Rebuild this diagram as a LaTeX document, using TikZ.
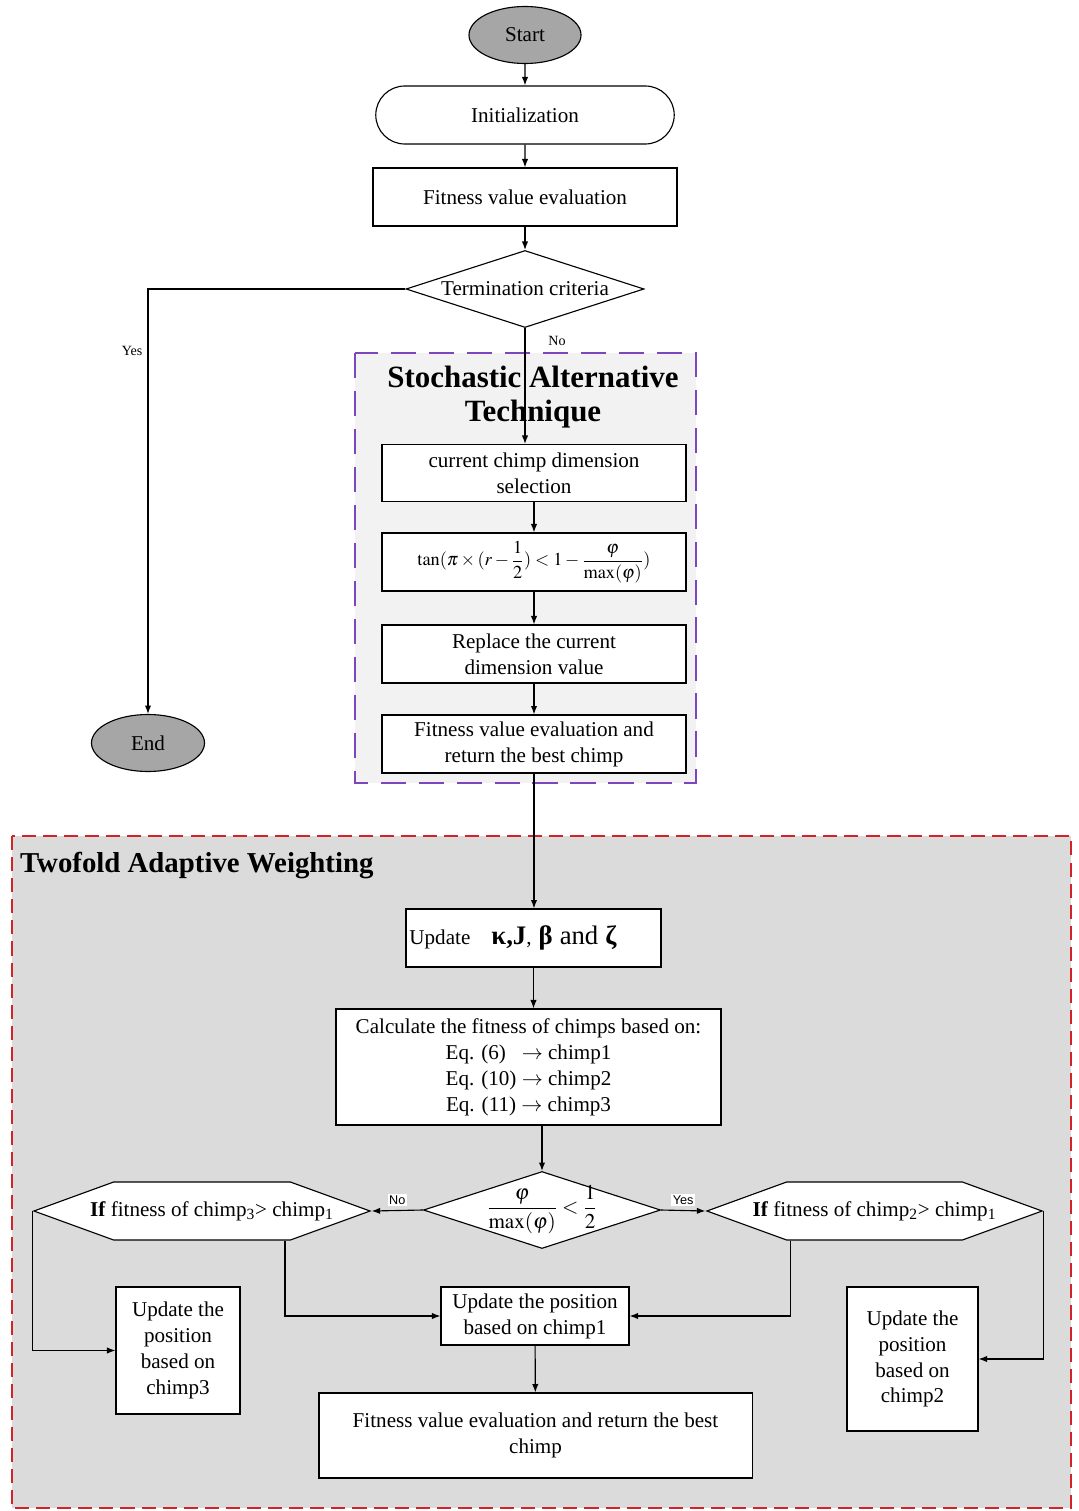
\documentclass[tikz,border=0pt]{standalone}
\usepackage{amsmath}
\usepackage{mathptmx}
\usepackage{fontspec}
\setmainfont{Liberation Serif}
\newfontfamily\tagfont{Liberation Sans}
\usetikzlibrary{shapes.geometric,shapes.misc,shapes.symbols,arrows.meta,calc}
\definecolor{satpurple}{RGB}{125,70,190}
\definecolor{tawred}{RGB}{210,35,40}

\begin{document}
\begin{tikzpicture}[x=0.025cm,y=-0.025cm,
  every node/.style={font=\fontsize{15}{18.4}\selectfont,inner sep=2pt},
  box/.style={draw=black,line width=0.8pt,fill=white,rectangle,align=center,minimum width=7.6cm,minimum height=1.45cm},
  term/.style={draw=black,line width=0.8pt,fill=black!35,ellipse,minimum width=2.8cm,minimum height=1.425cm},
  cond/.style={draw=black,line width=0.8pt,fill=white,diamond,aspect=3.1,inner sep=0pt,minimum width=5.95cm,minimum height=1.925cm},
  hexa/.style={draw=black,line width=0.8pt,fill=white,signal,signal to=west and east,signal pointer angle=40,inner sep=1pt,minimum width=8.4cm,minimum height=1.45cm},
  link/.style={line width=0.8pt,-{Latex[length=6pt,width=4.5pt]}},
  small/.style={font=\fontsize{10}{12}\selectfont},
  tag/.style={font=\tagfont\fontsize{9}{10}\selectfont,fill=white,inner sep=1pt}]
        \useasboundingbox (0,0) rectangle (1078,1511);

        % backgrounds of the two stages
        \draw[satpurple,line width=1.5pt,dash pattern=on 18pt off 9pt,fill=gray!10] (355,353) rectangle (696,783);
        \draw[tawred,line width=1.3pt,dash pattern=on 10pt off 5pt,fill=gray!28] (12,836) rectangle (1071,1508);

        % main loop
        \node[term] (start) at (525,35) {Start};
        \node[box,rounded rectangle] (init) at (525,115) {Initialization};
        \node[box] (fit) at (525,197) {Fitness value evaluation};
        \node[cond] (crit) at (525,289) {Termination criteria};
        \node[term,minimum width=2.825cm] (end) at (148,743) {End};
        \node[small] (yeslab) at (132,351) {Yes};
        \node[small] (nolab) at (557,341) {No};

        % stochastic alternative technique
        \node[font=\fontsize{22}{24.5}\selectfont\bfseries,align=center] (sattitle) at (533,397) {Stochastic Alternative\\Technique};
        \node[box,minimum height=1.425cm] (sat1) at (534,473) {current chimp dimension\\selection};
        \node[box,font=\fontsize{13}{15}\selectfont] (sat2) at (534,562) {$\displaystyle\tan(\pi\times(r-\frac{1}{2})<1-\frac{\varphi}{\max(\varphi)})$};
        \node[box] (sat3) at (534,654) {Replace the current\\dimension value};
        \node[box] (sat4) at (534,744) {Fitness value evaluation and\\return the best chimp};

        % twofold adaptive weighting
        \node[font=\fontsize{20.5}{23}\selectfont\bfseries,anchor=west] (tawtitle) at (17,866) {Twofold Adaptive Weighting};
        \node[box,minimum width=6.375cm,text width=6.2cm,align=left] (upd) at (533.5,938) {Update\quad{\fontsize{19}{20}\selectfont\bfseries κ,J}, {\fontsize{19}{20}\selectfont\bfseries β} {\fontsize{19}{20}\selectfont and} {\fontsize{19}{20}\selectfont\bfseries ζ}};
        \node[box,minimum width=9.625cm,minimum height=2.9cm] (fitcalc) at (528.5,1067) {Calculate the fitness of chimps based on:\\Eq. (6)\hphantom{0} $\rightarrow$\ chimp1\\Eq. (10) $\rightarrow$\ chimp2\\Eq. (11) $\rightarrow$\ chimp3};
        \node[cond,minimum width=5.925cm] (phi) at (542,1210) {\raisebox{-5pt}{\smash{$\displaystyle\frac{\varphi}{\max(\varphi)}<\frac{1}{2}$}}};
        \node[hexa] (hex3) at (202,1211) {\makebox[0pt]{\hspace{14pt}\textbf{If} fitness of chimp\textsubscript{3}> chimp\textsubscript{1}}};
        \node[hexa,minimum width=8.375cm] (hex2) at (874.5,1211) {\makebox[0pt]{\textbf{If} fitness of chimp\textsubscript{2}> chimp\textsubscript{1}}};
        \node[box,minimum width=3.1cm,minimum height=3.175cm] (pos3) at (178,1350.5) {Update the\\position\\based on\\chimp3};
        \node[box,minimum width=4.7cm] (pos1) at (535,1316) {Update the position\\based on chimp1};
        \node[box,minimum width=3.275cm,minimum height=3.6cm] (pos2) at (912.5,1359) {Update the\\position\\based on\\chimp2};
        \node[box,minimum width=10.825cm,minimum height=2.125cm] (final) at (535.5,1435.5) {Fitness value evaluation and return the best\\chimp};

        % connectors
        \path [link] (start) edge (init);
        \path [link] (init) edge (fit);
        \path [link] (fit) edge (crit);
        \draw [link] (crit.west) -| (end.north);
        \draw [link] (crit.south) -- (crit.south |- sat1.north);
        \path [link] (sat1) edge (sat2);
        \path [link] (sat2) edge (sat3);
        \path [link] (sat3) edge (sat4);
        \draw [link] (sat4.south) -- (sat4.south |- upd.north);
        \draw [link] (upd.south) -- (upd.south |- fitcalc.north);
        \draw [link] (phi.north |- fitcalc.south) -- (phi.north);
        \draw [link] (phi.west) -- (hex3.east) node[tag,midway,above=3pt] {No};
        \draw [link] (phi.east) -- (hex2.west) node[tag,midway,above=3pt] {Yes};
        \draw [link] (hex3.west) |- (pos3.west);
        \draw [link] ($(hex3.south)+(83,0)$) |- (pos1.west);
        \draw [link] ($(hex2.south)+(-84,0)$) |- (pos1.east);
        \draw [link] (hex2.east) |- (pos2.east);
        \path [link] (pos1) edge (final);
\end{tikzpicture}
\end{document}
